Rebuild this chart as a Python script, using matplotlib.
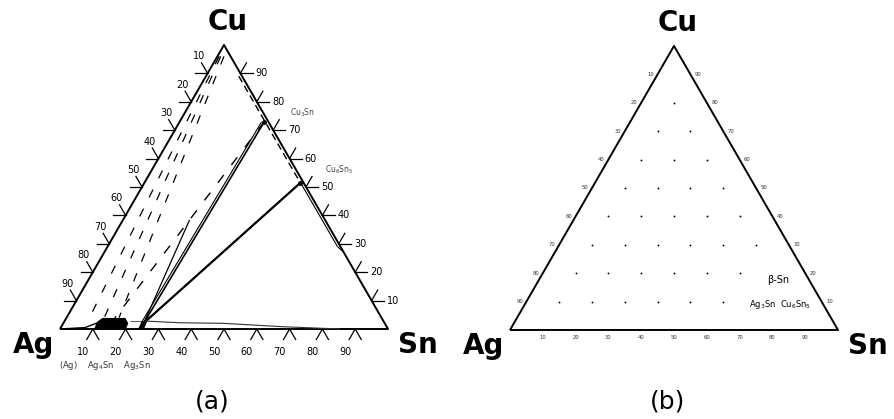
import numpy as np
import matplotlib.pyplot as plt

H = np.sqrt(3) / 2

# edge scale labels (percent)
edge_ticks = [10, 20, 30, 40, 50, 60, 70, 80, 90]

# compound points, given as (Sn, Cu) fractions
ag3sn = (0.245, 0.020)
cu3sn = (0.258, 0.729)
cu6sn5 = (0.476, 0.514)

# three dashed lines running from the Cu corner down to the zeta field
dash_top_sn = [0.005, 0.010, 0.020]
dash_top_cu = [0.960, 0.960, 0.960]
dash_bot_sn = [0.070, 0.115, 0.160]
dash_bot_cu = [0.040, 0.040, 0.040]

# dashed line leaving Cu3Sn, and the solid branch from it to Ag3Sn
cu3sn_dash_end = (0.148, 0.039)
branch_start = (0.203, 0.384)

# fields along the Ag-Sn side
ag_bound_sn = [0.000, 0.074, 0.102]
ag_bound_cu = [0.000, 0.005, 0.021]
zeta_sn = [0.104, 0.100, 0.110, 0.180, 0.198, 0.201]
zeta_cu = [0.000, 0.025, 0.039, 0.039, 0.020, 0.000]
ag3sn_sn = [0.238, 0.236, 0.252, 0.256]
ag3sn_cu = [0.000, 0.028, 0.030, 0.000]
liq_sn = [0.245, 0.355, 0.487, 0.676, 0.854]
liq_cu = [0.028, 0.022, 0.020, 0.008, 0.000]

# lines just inside the Cu-Sn side (Cu range), Ag kept small
edge_dash_cu = [0.89, 0.514]
edge_solid_cu = [0.514, 0.29]
edge_ag = 0.010

# grid points of panel (b) hidden under its phase labels, (Sn, Cu)
hidden_dots = [(0.7, 0.2), (0.7, 0.1), (0.8, 0.1)]


def tern(sn, cu):
    sn = np.asarray(sn, dtype=float)
    cu = np.asarray(cu, dtype=float)
    return sn + cu / 2, cu * H


def line(ax, sn, cu, **kw):
    x, y = tern(sn, cu)
    ax.plot(x, y, solid_capstyle="butt", **kw)


def frame(ax, x0, y0):
    ax.set_xlim(-x0 / 328, (447 - x0) / 328)
    ax.set_ylim(-(419 - y0) / 328, y0 / 328)
    ax.axis("off")
    line(ax, [0, 1, 0, 0], [0, 0, 1, 0], color="black", lw=1.4)
    kw = dict(fontsize=20, fontweight="bold", ha="center", va="baseline")
    ax.text(0.512, 0.912, "Cu", **kw)
    ax.text(-0.082, -0.073, "Ag", **kw)
    ax.text(1.091, -0.073, "Sn", **kw)


fig = plt.figure(figsize=(8.94, 4.19), dpi=100)

# ---------------- (a) phase diagram ----------------
ax = fig.add_axes([0, 0, 0.5, 1])
frame(ax, 60, 329)
L = 0.037
tk = dict(color="black", lw=0.9)
for v in edge_ticks:
    t = v / 100
    # left edge
    px, py = tern(0, 1 - t)
    ax.plot([px, px - L], [py, py], **tk)
    ax.plot([px, px - 0.5 * L], [py, py + H * L], **tk)
    ax.text(px - 0.027, py + 0.052, str(v), fontsize=7, ha="center", va="center")
    # bottom edge
    px, py = tern(t, 0)
    ax.plot([px - 0.5 * L, px, px + 0.5 * L], [py - H * L, py, py - H * L], **tk)
    ax.text(px - 0.03, py - 0.07, str(v), fontsize=7, ha="center", va="center")
    # right edge
    px, py = tern(1 - t, t)
    ax.plot([px, px + L], [py, py], **tk)
    ax.plot([px, px + 0.5 * L], [py, py + H * L], **tk)
    ax.text(px + 0.065, py, str(v), fontsize=7, ha="center", va="center")

dash = (0, (7, 10))
for s0, c0, s1, c1 in zip(dash_top_sn, dash_top_cu, dash_bot_sn, dash_bot_cu):
    line(ax, [s0, s1], [c0, c1], color="black", lw=0.9, linestyle=dash)

line(ax, [cu3sn[0], cu3sn_dash_end[0]], [cu3sn[1], cu3sn_dash_end[1]],
     color="black", lw=1.0, linestyle=(0, (7, 9)))
line(ax, [branch_start[0], ag3sn[0]], [branch_start[1], ag3sn[1]],
     color="black", lw=0.9)

# Cu3Sn - Ag3Sn tie line (double)
for d, w in [(0.0, 1.2), (-0.008, 0.8)]:
    line(ax, [cu3sn[0] + d, ag3sn[0] + d], [cu3sn[1], ag3sn[1]], color="black", lw=w)
# Cu6Sn5 - Ag3Sn tie line (double)
for d, w in [(0.0, 1.4), (0.007, 0.7)]:
    line(ax, [cu6sn5[0], ag3sn[0]], [cu6sn5[1] + d, ag3sn[1] + d], color="black", lw=w)

# along the Cu-Sn side
cu_d = np.array(edge_dash_cu)
line(ax, 1 - cu_d - edge_ag, cu_d, color="black", lw=1.0, linestyle=(0, (5, 3)))
cu_s = np.array(edge_solid_cu)
line(ax, 1 - cu_s - edge_ag * 0.9, cu_s, color="black", lw=0.8)
line(ax, [1 - cu_s[1] - edge_ag * 0.9, 1 - 0.27], [cu_s[1], 0.27], color="black", lw=0.8)

# near-binary Ag-Sn fields
line(ax, ag_bound_sn, ag_bound_cu, color="black", lw=1.0)
x, y = tern(zeta_sn, zeta_cu)
ax.fill(x, y, color="black", lw=0)
x, y = tern(ag3sn_sn, ag3sn_cu)
ax.fill(x, y, color="black", lw=0)
line(ax, [zeta_sn[4], ag3sn_sn[1]], [0.028, 0.028], color="#555555", lw=0.7)
line(ax, liq_sn, liq_cu, color="#333333", lw=0.8)

for pt in (cu3sn, cu6sn5):
    x, y = tern(*pt)
    ax.plot(x, y, "o", color="black", ms=2.5)

ax.text(0.738, 0.659, "Cu$_3$Sn", fontsize=5.5, color="#444444", ha="center", va="center")
ax.text(0.850, 0.485, "Cu$_6$Sn$_5$", fontsize=5.5, color="#444444", ha="center", va="center")
ax.text(0.137, -0.11, "(Ag)    Ag$_4$Sn    Ag$_3$Sn", fontsize=6, color="#333333",
        ha="center", va="center")
ax.text(0.465, -0.22, "(a)", fontsize=18, ha="center", va="center")

# ---------------- (b) composition grid ----------------
ax = fig.add_axes([0.5, 0, 0.5, 1])
frame(ax, 63, 330)
grid = [(s / 10, c / 10) for c in range(1, 9) for s in range(1, 10 - c)
        if (s / 10, c / 10) not in hidden_dots]
gs, gc = zip(*grid)
x, y = tern(gs, gc)
ax.scatter(x, y, s=1.8, color="black", lw=0)
small = dict(fontsize=3.8, color="#333333", ha="center", va="center")
for v in edge_ticks:
    t = v / 100
    px, py = tern(0, 1 - t)
    ax.text(px - 0.021, py, str(v), **small)
    px, py = tern(t, 0)
    ax.text(px, py - 0.022, str(v), **small)
    px, py = tern(1 - t, t)
    ax.text(px + 0.024, py, str(v), **small)
ax.text(0.817, 0.152, "β-Sn", fontsize=7, ha="center", va="center")
ax.text(0.823, 0.079, "Ag$_3$Sn  Cu$_6$Sn$_5$", fontsize=6, ha="center", va="center")
ax.text(0.479, -0.217, "(b)", fontsize=18, ha="center", va="center")

fig.savefig("out.png", dpi=100)
